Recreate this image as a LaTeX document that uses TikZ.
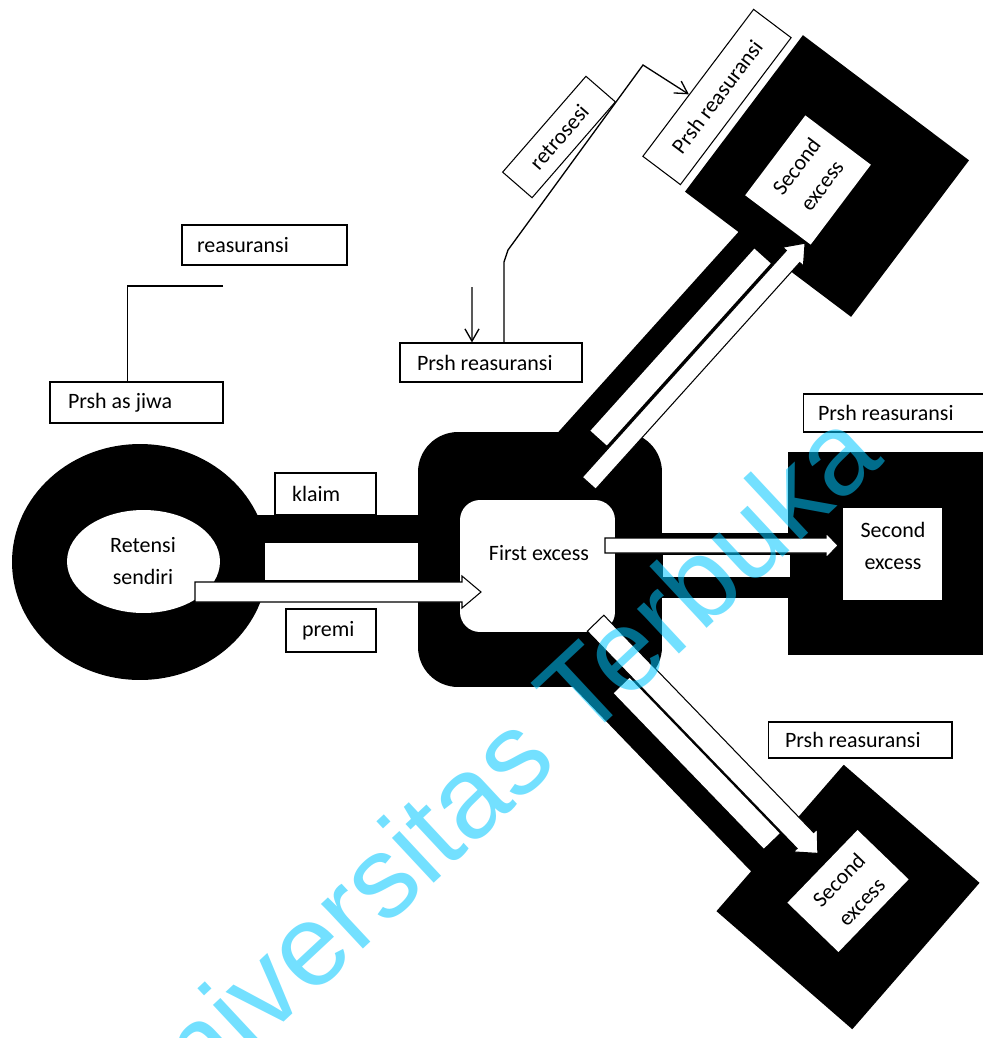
\documentclass[tikz,border=0pt]{standalone}
\usepackage{fontspec}
\setmainfont{Carlito}
\newfontfamily\markfont{Liberation Sans}
\usetikzlibrary{arrows.meta,calc}
\definecolor{markblue}{RGB}{0,200,255}
\begin{document}
\begin{tikzpicture}[x=0.02cm, y=-0.02cm,
  lbl/.style={draw=black, line width=0.6pt, fill=white, inner ysep=0pt, align=flush left,
    font=\fontsize{12.5}{15}\selectfont},
  rlbl/.style={draw=black, line width=0.6pt, fill=white, inner sep=0pt, align=center,
    font=\fontsize{12.5}{15}\selectfont},
  solidbox/.style={fill=black, inner sep=0pt},
  hole/.style={fill=white, inner sep=0pt},
  flowarrow/.style={fill=white, draw=black, line width=0.6pt, line join=miter},
  conn/.style={draw=black, line width=0.75pt},
  tip/.style={-{Straight Barb[length=7pt,width=8pt]}},
  boxtext/.style={align=center, font=\fontsize{12.5}{18}\selectfont, inner sep=0pt},
]
\useasboundingbox (0,0) rectangle (983,1038);
\fill[white] (0,0) rectangle (983,1038);
\clip (0,0) rectangle (983,1038);

% ---- black channels between the blocks
\fill (235,515) rectangle (425,602);
\fill (655,533) rectangle (795,598);
\begin{scope}[rotate=48]
  \fill (50,704) rectangle (335,752);
\end{scope}
\begin{scope}[rotate=-46]
  \fill (850,16) rectangle (1205,65);
\end{scope}

% ---- own retention ring
\fill (140,562) ellipse [x radius=2.56cm, y radius=2.36cm];
\fill[white] (143.5,561.5) ellipse [x radius=1.53cm, y radius=1.03cm];
\node[boxtext] (ret) at (143,561) {Retensi\\sendiri};

% ---- first excess block
\node[solidbox, rounded corners=0.8cm, minimum width=4.88cm, minimum height=5.1cm] (fxo) at (540,559.5) {};
\node[hole, rounded corners=0.4cm, minimum width=3.1cm, minimum height=2.64cm] (fxi) at (537.5,566) {};

% ---- second excess blocks
\node[solidbox, minimum width=4.04cm, minimum height=4.06cm] (sqr) at (889,553.5) {};
\node[hole, minimum width=1.98cm, minimum height=1.84cm] (sqri) at (892.5,554) {};
\node[solidbox, rotate=-37, minimum width=4.16cm, minimum height=3.92cm] (sqt) at (827,176) {};
\node[hole, rotate=-37, minimum width=1.64cm, minimum height=2cm] (sqti) at (808,180) {};
\node[solidbox, rotate=-41, minimum width=3.6cm, minimum height=3.88cm] (sqb) at (848,897) {};
\node[hole, rotate=-44, minimum width=1.42cm, minimum height=2.02cm] (sqbi) at (848,891) {};

% ---- return stripes inside the channels
\fill[white] (265,543) rectangle (418,580);
\fill[white] (663,555) rectangle (790,577);
\begin{scope}[rotate=48]
  \fill[white] (75,727) rectangle (320,749);
\end{scope}
\begin{scope}[rotate=-46]
  \fill[white] (925,18) rectangle (1141,40);
\end{scope}

% ---- flow arrows
\draw[flowarrow] (195,582) -- (462,582) -- (462,576) -- (481,592) -- (462,608) -- (462,602) -- (195,602) -- cycle;
\draw[flowarrow] (605,538) -- (826,538) -- (826,533) -- (838,545.5) -- (826,558) -- (826,553) -- (605,553) -- cycle;
\begin{scope}[rotate=48]
  \draw[flowarrow] (35,752) -- (340,752) -- (340,747) -- (358,761) -- (340,775) -- (340,770) -- (35,770) -- cycle;
\end{scope}
\begin{scope}[rotate=-46]
  \draw[flowarrow] (862,-7) -- (1164,-7) -- (1164,-12) -- (1182,4.5) -- (1164,21) -- (1164,16) -- (862,16) -- cycle;
\end{scope}

% ---- block texts
\node[boxtext] at (539,553) {First excess};
\node[boxtext] at (893,546) {Second\\excess};
\node[boxtext, rotate=53] at (809,176) {Second\\excess};
\node[boxtext, rotate=46] at (850,891) {Second\\excess};

% ---- label boxes
\node[lbl, text width=2.7cm, inner xsep=0.3cm, minimum height=0.8cm] (rs) at (264.5,245) {reasuransi};
\node[lbl, text width=2.74cm, inner xsep=0.36cm, minimum height=0.82cm] (pj) at (136.5,402.5) {Prsh as jiwa};
\node[lbl, text width=2.96cm, inner xsep=0.34cm, minimum height=0.78cm] (pm) at (491,362.5) {Prsh reasuransi};
\node[lbl, text width=1.34cm, inner xsep=0.34cm, minimum height=0.84cm] (kl) at (325.5,494) {klaim};
\node[lbl, text width=1.16cm, inner xsep=0.32cm, minimum height=0.86cm] (pr) at (331,630.5) {premi};
\node[lbl, text width=3.2cm, inner xsep=0.3cm, minimum height=0.76cm] (prr) at (898,413) {Prsh reasuransi};
\node[lbl, text width=3.0cm, inner xsep=0.34cm, minimum height=0.72cm] (prb) at (860,740) {Prsh reasuransi};
\node[rlbl, rotate=49, minimum width=2.54cm, minimum height=0.78cm] (rt) at (559,137) {retrosesi};
\node[rlbl, rotate=53, minimum width=3.68cm, minimum height=0.94cm] (pt) at (717,97) {Prsh reasuransi};

% ---- connectors
\coordinate (bracketEnd) at (223,286);
\draw[conn] (bracketEnd) -| ($(pj.north west)!0.45!(pj.north east)$);
\coordinate (retroLow) at (504,262);
\coordinate (retroBend) at (508,250);
\coordinate (retroTop) at (643,65);
\draw[conn, tip] ($(pm.north west)!0.571!(pm.north east)$) -- (retroLow) -- (retroBend) -- (retroTop)
  -- ($(pt.north west)!0.42!(pt.north east)$);
\coordinate (dropStart) at (472,287);
\draw[conn, tip] (dropStart) -- ($(pm.north west)!0.396!(pm.north east)$);

% ---- watermark
\node[font=\markfont\fontsize{66}{66}\selectfont, text=markblue, opacity=0.55, rotate=43,
  anchor=base, inner sep=0pt] (mark) at (513,809) {Universitas Terbuka};
\end{tikzpicture}
\end{document}
